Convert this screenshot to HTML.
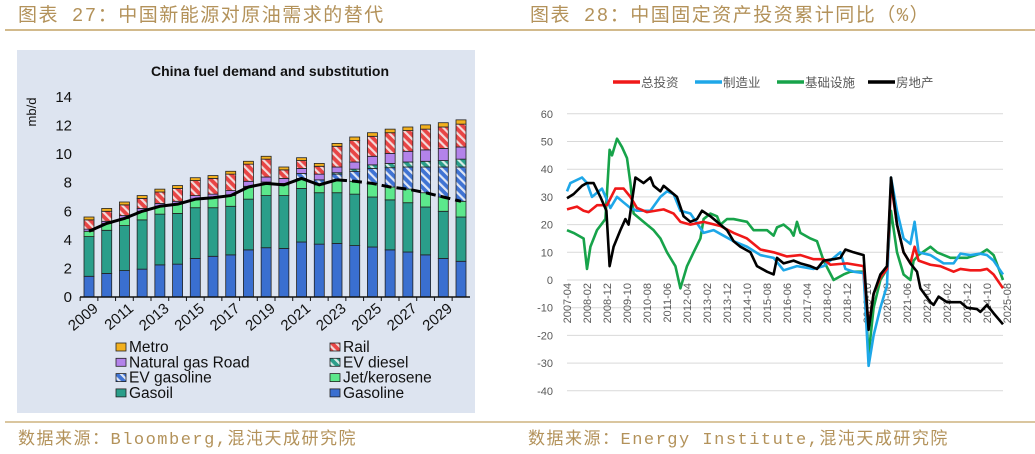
<!DOCTYPE html>
<html><head><meta charset="utf-8"><style>
html,body{margin:0;padding:0;background:#fff;width:1035px;height:454px;overflow:hidden}
svg{display:block}
.hd{font-family:"Liberation Mono","Noto Sans CJK SC",monospace;letter-spacing:1.5px}
</style></head><body>
<svg id="root" width="1035" height="454" viewBox="0 0 1035 454" xmlns="http://www.w3.org/2000/svg">
<defs>
<pattern id="hRail" width="6" height="6" patternUnits="userSpaceOnUse" patternTransform="rotate(-45)"><rect width="6" height="6" fill="#e84545"/><rect width="2.2" height="6" fill="#f3dada"/></pattern>
<pattern id="hEvg" width="6" height="6" patternUnits="userSpaceOnUse" patternTransform="rotate(-45)"><rect width="6" height="6" fill="#3f73d3"/><rect width="2.2" height="6" fill="#dfe6f5"/></pattern>
<pattern id="hEvd" width="6" height="6" patternUnits="userSpaceOnUse" patternTransform="rotate(-45)"><rect width="6" height="6" fill="#2a9e8a"/><rect width="2.2" height="6" fill="#d5ece6"/></pattern>
</defs>
<g font-family="'Liberation Sans','Noto Sans CJK SC',sans-serif">
<text class="hd" x="18" y="21" font-size="19" fill="#b3925a">图表 27：中国新能源对原油需求的替代</text>
<text class="hd" x="530" y="21" font-size="19" fill="#b3925a">图表 28：中国固定资产投资累计同比（%）</text>
<line x1="5" y1="30" x2="1035" y2="30" stroke="#c4a466" stroke-width="1.5"/>
<line x1="5" y1="422" x2="1035" y2="422" stroke="#c4a466" stroke-width="1.2"/>
<text class="hd" x="18" y="444" font-size="17" fill="#b3925a">数据来源：Bloomberg,混沌天成研究院</text>
<text class="hd" x="528" y="444" font-size="17" fill="#b3925a">数据来源：Energy Institute,混沌天成研究院</text>
<rect x="17" y="50" width="458" height="363" fill="#dde4f0"/>
<text x="270" y="76" font-size="14" font-weight="bold" text-anchor="middle" fill="#111">China fuel demand and substitution</text>
<text transform="translate(36,112) rotate(-90)" font-size="13" text-anchor="middle" fill="#111">mb/d</text>
<g id="left"></g>
<g id="right"></g>
</g>
</svg>
<script>
// ---------- left chart data ----------
const years = [2009,2010,2011,2012,2013,2014,2015,2016,2017,2018,2019,2020,2021,2022,2023,2024,2025,2026,2027,2028,2029,2030];
const gasoline = [1.45,1.65,1.85,1.95,2.25,2.3,2.7,2.85,2.95,3.3,3.45,3.4,3.85,3.7,3.75,3.6,3.5,3.3,3.15,2.95,2.7,2.5];
const gasoil = [2.78,3.02,3.15,3.45,3.55,3.55,3.55,3.4,3.4,3.55,3.65,3.7,3.75,3.6,3.55,3.6,3.5,3.5,3.45,3.35,3.3,3.1];
const jet = [0.37,0.48,0.5,0.6,0.55,0.65,0.6,0.7,0.75,0.85,0.85,0.75,0.7,0.55,0.9,0.9,0.95,0.9,0.95,1.0,1.0,1.1];
const evGasoline = [0,0,0,0,0,0,0,0,0.05,0.05,0.1,0.1,0.35,0.35,0.4,0.7,1.05,1.35,1.55,1.8,2.1,2.4];
const evDiesel = [0,0,0,0,0,0,0,0,0,0,0,0,0,0,0.1,0.15,0.25,0.3,0.35,0.4,0.45,0.55];
const ngRoad = [0.15,0.15,0.2,0.2,0.2,0.2,0.25,0.25,0.3,0.35,0.35,0.35,0.35,0.4,0.4,0.5,0.6,0.7,0.75,0.8,0.85,0.85];
const rail = [0.65,0.7,0.75,0.7,0.8,0.9,1.05,1.1,1.15,1.2,1.25,0.6,0.55,0.55,1.45,1.5,1.4,1.45,1.45,1.45,1.5,1.6];
const metro = [0.2,0.2,0.2,0.2,0.2,0.2,0.2,0.2,0.2,0.2,0.2,0.2,0.2,0.2,0.2,0.25,0.25,0.25,0.25,0.3,0.3,0.3];
const oilDemand = [4.6,5.15,5.5,6.0,6.35,6.5,6.85,6.95,7.1,7.7,7.95,7.85,8.3,7.85,8.2,8.1,7.95,7.7,7.55,7.3,7.0,6.7];
const leftTicks = [0,2,4,6,8,10,12,14];

// ---------- right chart data ----------
const rTicks = [60,50,40,30,20,10,0,-10,-20,-30,-40];
const rLabels = ["2007-04","2008-02","2008-12","2009-10","2010-08","2011-06","2012-04","2013-02","2013-12","2014-10","2015-08","2016-06","2017-04","2018-02","2018-12","2019-10","2020-08","2021-06","2022-04","2023-02","2023-12","2024-10","2025-08"];
const totalM = [0,5,8.3,10.8,15,20,24.2,28.3,31.7,35,40,48.3,53.3,56.7,61.7,68.3,76.7,83.3,90,96.7,103.3,110,116.7,123.3,128.3,131.7,140,148.3,150.8,153.3,156.7,160,162,165,168.3,171.7,173.8,175.8,181.7,186.7,193.3,196.7,201.7,206.7,210,213.3,218];
const totalV = [25.5,26.5,25,24.5,27,27,33,33,30,26,24.5,25.5,24,21,20,21,19.5,17,15,11,10,8.5,9,7.5,7.5,5.5,6,5,-17,-5,1,4,35,20,10,6,12,7,5.5,5,3,4,3.5,3.5,4,2,-3];
const mfgM = [0,1.7,7.5,10,12.5,17.5,21.7,25,28.3,31.7,35,41.7,46.7,50,53.3,56.7,61.7,68.3,73.3,78.3,83.3,90,96.7,103.3,108.3,115,123.3,128.3,133.3,136.7,139.2,143.3,148.3,150.8,153.3,156.7,160,162,165,168.3,171.7,173.8,175.8,181.7,188.3,193.3,196.7,201.7,206.7,210,213.3,218];
const mfgV = [32,35,37,35,30,33,26,30,28,26,25,25,30,32,31,25,24,17,18,16,14,12,9,8,3.5,5,4,5,8,10,4,3,2.5,-31,-20,-10,-2,37,25,15,13,21,10,9,6,6,9.5,9,9.5,9,7,2];
const infraM = [0,3.3,8.3,10,11.7,15,19.2,21.3,22.5,25,27.5,30,31.7,33.3,38.3,43.3,46.7,50,54.2,56.7,60,63.3,66.7,68.3,71.7,75,76.7,80,83.3,90,93.3,100,103.3,105,108.3,111.7,113.3,115,116.7,121.7,125,128.3,133.3,138.3,141.7,148.3,150.8,153.3,156.7,160,162,165,168.3,171.7,173.3,175.8,181.7,185,191.7,196.7,200,206.7,210,213.3,218];
const infraV = [18,17,15,4,12,18,22,47,45,51,48,44,35,24,21,18,15,10,5,-3,5,10,15,22,24,23,20,22,22,21,18,18,16,19,20,18,16,21,17,15,14,7,0,2,3,3,-27,-10,0,4,25,10,2,0,7,9,12,10,8,8,8,9.5,11,9,0];
const estateM = [0,3.3,7.5,10,13.3,16.7,19.7,21.3,23.3,26.7,29.2,30.8,34.2,38.3,41.7,43.3,46.7,48.3,51.7,55,58.3,61.7,65,67.5,71.7,80,83.3,86.7,91.7,95,100,103.3,105,108.3,113.3,116.7,121.7,125,128.3,133.3,136.7,139.2,143.3,148.3,150.8,153.3,156.7,160,162,165,168.3,171.7,175,176.7,181.7,183.3,185.8,190,196.7,200,205,206.7,210,213.3,218];
const estateV = [29.5,31,34,35,35,30,25,5,12,18,22,20,37,35,37,34,32,34,32,30,23,21,22,25,23,18,14,12,10,5,3,2,8,6,7,6,5,4,7,7.5,8,11,10,9,-18,-5,2,5,37,20,10,6,3,-3,-8,-9,-6,-8,-8,-10,-10.5,-11.5,-9,-12,-16];

const NS = "http://www.w3.org/2000/svg";
function mk(tag, attrs, parent){const e=document.createElementNS(NS,tag);for(const k in attrs)e.setAttribute(k,attrs[k]);parent.appendChild(e);return e;}

// ---- left axes ----
const L = document.getElementById('left');
const lx0 = 89, lStep = (461-89)/(years.length-1);
const ly = v => 297 - v*(200/14);
const lx = i => lx0 + i*lStep;
leftTicks.forEach(t=>{
  const tx = mk('text',{x:72,y:ly(t)+5,'font-size':15,'text-anchor':'end',fill:'#111'},L);
  tx.textContent = t;
  
  
});
const layers = [
  {d:gasoline,f:'#3a6fd0',n:'gasoline'},
  {d:gasoil,f:'#2a9e8a',n:'gasoil'},
  {d:jet,f:'#5ce88c',n:'jet-kerosene'},
  {d:evGasoline,f:'url(#hEvg)',n:'ev-gasoline'},
  {d:evDiesel,f:'url(#hEvd)',n:'ev-diesel'},
  {d:ngRoad,f:'#b383ea',n:'natural-gas-road'},
  {d:rail,f:'url(#hRail)',n:'rail'},
  {d:metro,f:'#f2b01e',n:'metro'}
];
years.forEach((y,i)=>{
  let cum=0;
  layers.forEach(ly2=>{
    const v=ly2.d[i]; if(v<=0) return;
    const r = mk('rect',{x:lx(i)-5,y:ly(cum+v),width:10,height:ly(cum)-ly(cum+v),fill:ly2.f,stroke:'#222','stroke-width':0.8},L);
    
    
    cum+=v;
  });
});
const axl = mk('line',{x1:80,y1:297,x2:470,y2:297,stroke:'#111','stroke-width':1.5},L);


years.forEach((y,i)=>{
  mk('line',{x1:lx(i)-lStep/2,y1:297,x2:lx(i)-lStep/2,y2:301,stroke:'#111'},L);
  if(i%2===0){
    const t = mk('text',{transform:`translate(${lx(i)+10},${310}) rotate(-40)`,'font-size':15,'text-anchor':'end',fill:'#111'},L);
    t.textContent=y;
    
    
  }
});
const solidPts=[],dashPts=[];
oilDemand.forEach((v,i)=>{ const p=lx(i)+','+ly(v); if(i<=14) solidPts.push(p); if(i>=14) dashPts.push(p); });
const s1 = mk('polyline',{points:solidPts.join(' '),fill:'none',stroke:'#000','stroke-width':3,'stroke-linejoin':'round'},L);


const s2 = mk('polyline',{points:dashPts.join(' '),fill:'none',stroke:'#000','stroke-width':3,'stroke-dasharray':'10 5'},L);


const legendItems=[['Metro','#f2b01e',0,0],['Rail','url(#hRail)',1,0],['Natural gas Road','#b383ea',0,1],['EV diesel','url(#hEvd)',1,1],['EV gasoline','url(#hEvg)',0,2],['Jet/kerosene','#5ce88c',1,2],['Gasoil','#2a9e8a',0,3],['Gasoline','#3a6fd0',1,3]];
legendItems.forEach(it=>{
  const x = it[2]? 330:116, y = 352+it[3]*15.3;
  const g = mk('g',{},L);
  
  
  mk('rect',{x:x,y:y-9,width:10,height:8,fill:it[1],stroke:'#222','stroke-width':0.8},g);
  const t=mk('text',{x:x+13,y:y,'font-size':15.5,fill:'#111'},g);
  t.textContent=it[0];
});

// ---- right chart ----
const R = document.getElementById('right');
const rx = m => 567 + m*2;
const ry = v => 280 - v*2.77;
rTicks.forEach(t=>{
  const gl = mk('line',{x1:567,y1:ry(t),x2:1003,y2:ry(t),stroke:'#d9d9d9','stroke-width':1},R);
  
  
  const tx = mk('text',{x:553,y:ry(t)+4,'font-size':11,'text-anchor':'end',fill:'#595959'},R);
  tx.textContent=t;
  
  
});
rLabels.forEach((lab,i)=>{
  const t = mk('text',{transform:`translate(${rx(i*10)+4},${283}) rotate(-90)`,'font-size':11,'text-anchor':'end',fill:'#595959'},R);
  t.textContent=lab;
  
  
});
const series=[[infraM,infraV,'#17a34a','infrastructure-line'],[mfgM,mfgV,'#1ea7e8','manufacturing-line'],[totalM,totalV,'#f01818','total-investment-line'],[estateM,estateV,'#000','real-estate-line']];
series.forEach(s=>{
  const pts=s[0].map((m,i)=>rx(m)+','+ry(s[1][i])).join(' ');
  const p=mk('polyline',{points:pts,fill:'none',stroke:s[2],'stroke-width':2.6,'stroke-linejoin':'round'},R);
  
  
});
const rLeg=[['总投资','#f01818',613],['制造业','#1ea7e8',695],['基础设施','#17a34a',777],['房地产','#000',868]];
rLeg.forEach(l=>{
  const g=mk('g',{},R);
  
  
  mk('line',{x1:l[2],y1:82,x2:l[2]+27,y2:82,stroke:l[1],'stroke-width':3.5},g);
  const t=mk('text',{x:l[2]+28,y:87,'font-size':12.5,fill:'#595959'},g);
  t.textContent=l[0];
});
</script>
</body></html>
